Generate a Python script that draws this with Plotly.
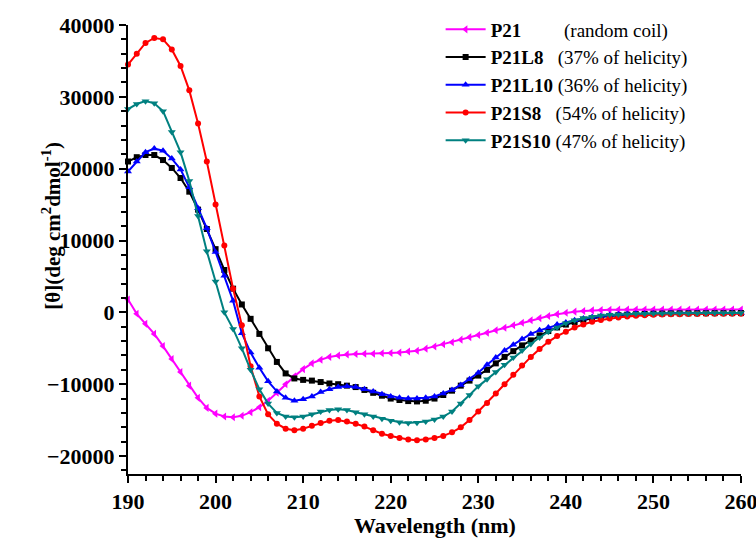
import plotly.graph_objects as go

# wavelength grid (nm), one point per nm
wavelength = list(range(190, 261))

p21 = [1800, -200, -1600, -3000, -4700, -6500, -8300, -10200, -11900, -13300,
       -14100, -14500, -14600, -14400, -13900, -13200, -12300, -11200, -10000, -8900,
       -7900, -7100, -6600, -6200, -6000, -5850, -5800, -5750, -5750, -5700,
       -5650, -5600, -5450, -5350, -5050, -4750, -4450, -4150, -3800, -3450,
       -3150, -2850, -2500, -2150, -1800, -1450, -1100, -800, -500, -250,
       -50, 100, 200, 280, 330, 360, 380, 390, 400, 400,
       400, 400, 400, 400, 400, 400, 400, 400, 400, 400,
       400]

p21l8 = [21000, 21600, 21900, 21900, 21200, 20100, 18700, 16800, 14300, 11600,
         8800, 5900, 3300, 1100, -900, -3000, -5000, -6900, -8500, -9200,
         -9400, -9500, -9700, -9900, -10000, -10200, -10400, -10800, -11200, -11600,
         -12000, -12200, -12350, -12400, -12300, -12000, -11500, -10900, -10200, -9500,
         -8800, -8000, -7100, -6200, -5400, -4600, -3900, -3200, -2600, -2100,
         -1700, -1350, -1050, -800, -650, -500, -400, -320, -260, -220,
         -190, -170, -150, -140, -130, -120, -120, -110, -110, -100,
         -100]

p21l10 = [19600, 21000, 22300, 22800, 22500, 21400, 19900, 17400, 14500, 11700,
          8400, 5100, 1600, -2900, -5600, -7700, -9600, -11000, -11900, -12300,
          -12100, -11700, -11100, -10700, -10400, -10300, -10400, -10700, -11000, -11400,
          -11700, -11900, -12000, -12000, -11900, -11700, -11300, -10800, -10100, -9300,
          -8400, -7300, -6300, -5300, -4500, -3700, -3000, -2500, -2100, -1700,
          -1400, -1100, -850, -650, -500, -380, -300, -250, -200, -180,
          -160, -150, -140, -130, -120, -110, -100, -100, -100, -100,
          -100]

p21s8 = [34500, 36000, 37500, 38200, 38000, 36600, 34300, 30900, 26300, 21000,
         15000, 9300, 3300, -1800, -7500, -11700, -14200, -15500, -16200, -16400,
         -16200, -15800, -15400, -15100, -15000, -15200, -15500, -15900, -16400, -16900,
         -17200, -17500, -17700, -17800, -17700, -17500, -17200, -16700, -16000, -15000,
         -13800, -12600, -11300, -10000, -8700, -7400, -6200, -5100, -4100, -3300,
         -2700, -2100, -1700, -1300, -1050, -850, -700, -580, -480, -400,
         -340, -300, -270, -250, -230, -220, -210, -200, -200, -190,
         -190]

p21s10 = [28300, 29000, 29400, 29100, 28000, 25100, 22300, 18300, 13400, 8500,
          4300, 0, -2300, -5000, -8000, -10700, -12700, -14000, -14500, -14600,
          -14500, -14200, -13800, -13600, -13500, -13600, -13900, -14200, -14500, -14800,
          -15100, -15300, -15400, -15350, -15200, -14900, -14500, -13800, -12700, -11500,
          -10300, -9300, -8300, -7300, -6300, -5300, -4400, -3500, -2700, -2100,
          -1500, -1100, -800, -600, -450, -350, -300, -250, -200, -180,
          -160, -150, -140, -130, -120, -110, -100, -100, -100, -100,
          -100]

names = [
    "<b>P21</b>&nbsp;&nbsp;&nbsp;&nbsp;&nbsp;&nbsp;&nbsp;&nbsp;&nbsp;(random coil)",
    "<b>P21L8</b>&nbsp;&nbsp;&nbsp;(37% of helicity)",
    "<b>P21L10</b> (36% of helicity)",
    "<b>P21S8</b>&nbsp;&nbsp;&nbsp;(54% of helicity)",
    "<b>P21S10</b> (47% of helicity)",
]
series = [p21, p21l8, p21l10, p21s8, p21s10]
colors = ["#ff00ff", "#000000", "#0000ff", "#ff0000", "#008080"]
symbols = ["triangle-left", "square", "triangle-up", "circle", "triangle-down"]
sizes = [7, 6, 7, 6, 7]

fig = go.Figure()
for name, ys, c, s, sz in zip(names, series, colors, symbols, sizes):
    fig.add_trace(go.Scatter(
        x=wavelength, y=ys, name=name, mode="lines+markers",
        line=dict(color=c, width=2),
        marker=dict(symbol=s, size=sz, color=c),
        cliponaxis=False,
    ))

font_family = "Liberation Serif, Times New Roman, serif"
axis_common = dict(
    showline=True, linecolor="black", linewidth=2,
    ticks="outside", tickwidth=2, ticklen=7, tickcolor="black",
    showgrid=False, zeroline=False, automargin=False,
    tickformat="d", ticklabeloverflow="allow",
    tickfont=dict(family=font_family, size=22, color="black", weight="bold"),
    minor=dict(ticks="outside", ticklen=5, tickwidth=2, tickcolor="black"),
)

fig.update_xaxes(range=[190, 260], dtick=10, tick0=190, **axis_common)
fig.update_yaxes(range=[-22500, 40000], dtick=10000, tick0=0, **axis_common)

# axis titles
fig.add_annotation(
    text="<b>Wavelength (nm)</b>", xref="paper", yref="paper",
    x=0.5, y=-0.114, xanchor="center", yanchor="middle", showarrow=False,
    font=dict(family=font_family, size=22, color="black"),
)
fig.add_annotation(
    text="<b>[θ](deg cm<sup>2</sup>dmol<sup>-1</sup>)</b>", xref="paper", yref="paper",
    x=-0.124, y=0.553, xanchor="center", yanchor="middle", showarrow=False,
    textangle=-90,
    font=dict(family=font_family, size=21, color="black"),
)

fig.update_layout(
    width=756, height=543,
    margin=dict(l=128, r=15, t=24, b=69),
    plot_bgcolor="white", paper_bgcolor="white",
    legend=dict(
        x=0.51, y=1.03, xanchor="left", yanchor="top",
        bgcolor="rgba(0,0,0,0)",
        font=dict(family=font_family, size=19, color="black"),
        tracegroupgap=0, itemwidth=40,
    ),
)

# drop the default page margin so the figure sits at the window's corner
fig.write_html("out.html", config={"displayModeBar": False},
               post_script="document.body.style.margin='0';")
